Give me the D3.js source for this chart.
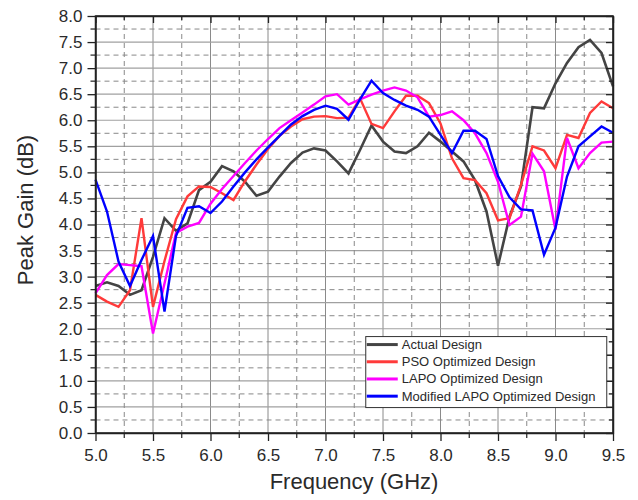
<!DOCTYPE html>
<html>
<head>
<meta charset="utf-8">
<script src="https://cdn.jsdelivr.net/npm/d3@7"></script>
<style>
  body { margin: 0; background: #fff; }
  svg text { font-family: "Liberation Sans", Arial, sans-serif; fill: #2a2a2a; }
</style>
</head>
<body>
<svg id="chart"></svg>
<script>
// frequency points 5.0 .. 9.5 GHz, 0.1 step
const freqs = [5.0, 5.1, 5.2, 5.3, 5.4, 5.5, 5.6, 5.7, 5.8, 5.9,
               6.0, 6.1, 6.2, 6.3, 6.4, 6.5, 6.6, 6.7, 6.8, 6.9,
               7.0, 7.1, 7.2, 7.3, 7.4, 7.5, 7.6, 7.7, 7.8, 7.9,
               8.0, 8.1, 8.2, 8.3, 8.4, 8.5, 8.6, 8.7, 8.8, 8.9,
               9.0, 9.1, 9.2, 9.3, 9.4, 9.5];

const actualGain = [2.82, 2.89, 2.82, 2.65, 2.74, 3.38, 4.12, 3.88, 4.02, 4.66,
                    4.82, 5.12, 5.02, 4.82, 4.55, 4.63, 4.92, 5.18, 5.38, 5.46,
                    5.42, 5.21, 4.98, 5.43, 5.90, 5.59, 5.40, 5.37, 5.50, 5.76,
                    5.59, 5.40, 5.21, 4.85, 4.25, 3.21, 4.15, 4.73, 6.25, 6.23,
                    6.71, 7.10, 7.40, 7.54, 7.29, 6.65];

const psoGain = [2.65, 2.52, 2.42, 2.74, 4.12, 2.42, 3.30, 4.10, 4.54, 4.73,
                 4.72, 4.60, 4.47, 4.83, 5.15, 5.45, 5.70, 5.88, 6.02, 6.07,
                 6.08, 6.04, 6.05, 6.42, 5.93, 5.85, 6.17, 6.47, 6.47, 6.33,
                 5.94, 5.27, 4.89, 4.85, 4.60, 4.08, 4.12, 4.76, 5.50, 5.42,
                 5.08, 5.72, 5.66, 6.14, 6.36, 6.23];

const lapoGain = [2.68, 3.03, 3.24, 3.22, 3.20, 1.91, 2.87, 3.84, 3.96, 4.03,
                  4.40, 4.68, 4.93, 5.18, 5.42, 5.64, 5.85, 6.00, 6.15, 6.30,
                  6.46, 6.50, 6.30, 6.40, 6.49, 6.57, 6.63, 6.57, 6.44, 6.07,
                  6.10, 6.17, 6.00, 5.75, 5.37, 4.82, 3.99, 4.15, 5.36, 5.02,
                  3.90, 5.66, 5.08, 5.37, 5.57, 5.59];

const modLapoGain = [4.86, 4.25, 3.29, 2.82, 3.32, 3.78, 2.33, 3.78, 4.32, 4.35,
                     4.22, 4.44, 4.73, 5.00, 5.25, 5.48, 5.70, 5.92, 6.08, 6.20,
                     6.28, 6.22, 6.01, 6.40, 6.76, 6.52, 6.39, 6.28, 6.20, 6.07,
                     5.72, 5.37, 5.80, 5.80, 5.64, 4.93, 4.52, 4.29, 4.27, 3.42,
                     3.94, 4.92, 5.50, 5.69, 5.88, 5.76];

const seriesNames = ["Actual Design", "PSO Optimized Design", "LAPO Optimized Design", "Modified LAPO Optimized Design"];
const seriesColors = ["#444444", "#ff3a3a", "#ff00ff", "#0000ff"];

const xTicks = [5.0, 5.5, 6.0, 6.5, 7.0, 7.5, 8.0, 8.5, 9.0, 9.5];
const yTicks = [0.0, 0.5, 1.0, 1.5, 2.0, 2.5, 3.0, 3.5, 4.0, 4.5, 5.0, 5.5, 6.0, 6.5, 7.0, 7.5, 8.0];

const width = 638, height = 500;
const margin = { top: 16, right: 25, bottom: 67, left: 95.5 };
const w = width - margin.left - margin.right;
const h = height - margin.top - margin.bottom;

const svg = d3.select("#chart").attr("width", width).attr("height", height);
const g = svg.append("g").attr("transform", `translate(${margin.left},${margin.top})`);

const x = d3.scaleLinear().domain([5.0, 9.5]).range([0, w]);
const y = d3.scaleLinear().domain([0, 8]).range([h, 0]);

// minor positions halfway between majors
const xMinor = xTicks.slice(0, -1).map(d => d + 0.25);
const yMinor = yTicks.slice(0, -1).map(d => d + 0.25);

// grid
const grid = g.append("g").attr("class", "grid");
grid.selectAll(".vmaj").data(xTicks).join("line")
    .attr("x1", d => x(d)).attr("x2", d => x(d)).attr("y1", 0).attr("y2", h)
    .attr("stroke", "#8a8a8a").attr("stroke-width", 1);
grid.selectAll(".hmaj").data(yTicks).join("line")
    .attr("y1", d => y(d)).attr("y2", d => y(d)).attr("x1", 0).attr("x2", w)
    .attr("stroke", "#a0a0a0").attr("stroke-width", 1.2);
grid.selectAll(".vmin").data(xMinor).join("line")
    .attr("x1", d => x(d)).attr("x2", d => x(d)).attr("y1", 0).attr("y2", h)
    .attr("stroke", "#888").attr("stroke-width", 1).attr("stroke-dasharray", "5,4");
grid.selectAll(".hmin").data(yMinor).join("line")
    .attr("y1", d => y(d)).attr("y2", d => y(d)).attr("x1", 0).attr("x2", w)
    .attr("stroke", "#888").attr("stroke-width", 1).attr("stroke-dasharray", "5,4");

// lines
const line = d3.line().x((d, i) => x(freqs[i])).y(d => y(d));
const allSeries = [actualGain, psoGain, lapoGain, modLapoGain];
g.append("g")
  .selectAll("path").data(allSeries).join("path")
    .attr("d", d => line(d))
    .attr("fill", "none")
    .attr("stroke", (d, i) => seriesColors[i])
    .attr("stroke-width", (d, i) => i === 0 ? 2.6 : 2.4)
    .attr("stroke-linejoin", "miter");

// axes
const fmt = d3.format(".1f");
const axisStyle = sel => {
  sel.select(".domain").attr("stroke", "#222").attr("stroke-width", 1.5);
  sel.selectAll(".tick line").attr("stroke", "#222").attr("stroke-width", 1.3);
  sel.selectAll(".tick text").style("font-size", "17px").attr("fill", "#2a2a2a");
};

const xAxis = g.append("g").attr("transform", `translate(0,${h})`)
  .call(d3.axisBottom(x).tickValues(xTicks).tickFormat(fmt).tickSize(8).tickPadding(8).tickSizeOuter(0));
axisStyle(xAxis);
const yAxis = g.append("g")
  .call(d3.axisLeft(y).tickValues(yTicks).tickFormat(fmt).tickSize(8).tickPadding(5).tickSizeOuter(0));
axisStyle(yAxis);
const xTop = g.append("g")
  .call(d3.axisBottom(x).tickValues(xTicks).tickFormat("").tickSize(7).tickSizeOuter(0));
axisStyle(xTop);
const yRight = g.append("g").attr("transform", `translate(${w},0)`)
  .call(d3.axisLeft(y).tickValues(yTicks).tickFormat("").tickSize(7).tickSizeOuter(0));
axisStyle(yRight);

// minor ticks
g.append("g").selectAll("line").data(xMinor).join("line")
  .attr("x1", d => x(d)).attr("x2", d => x(d)).attr("y1", h).attr("y2", h + 5)
  .attr("stroke", "#222").attr("stroke-width", 1.2);
g.append("g").selectAll("line").data(xMinor).join("line")
  .attr("x1", d => x(d)).attr("x2", d => x(d)).attr("y1", 0).attr("y2", 4)
  .attr("stroke", "#222").attr("stroke-width", 1.2);
g.append("g").selectAll("line").data(yMinor).join("line")
  .attr("y1", d => y(d)).attr("y2", d => y(d)).attr("x1", 0).attr("x2", -5)
  .attr("stroke", "#222").attr("stroke-width", 1.2);
g.append("g").selectAll("line").data(yMinor).join("line")
  .attr("y1", d => y(d)).attr("y2", d => y(d)).attr("x1", w).attr("x2", w - 4)
  .attr("stroke", "#222").attr("stroke-width", 1.2);

// frame
g.append("rect").attr("width", w).attr("height", h)
  .attr("fill", "none").attr("stroke", "#222").attr("stroke-width", 1.5);

// axis titles
svg.append("text")
  .attr("x", 354).attr("y", 489)
  .attr("text-anchor", "middle").style("font-size", "22px")
  .text("Frequency (GHz)");
svg.append("text")
  .attr("transform", "translate(33,210) rotate(-90)")
  .attr("text-anchor", "middle").style("font-size", "22px")
  .text("Peak Gain (dB)");

// legend
const lg = g.append("g").attr("transform", `translate(${x(7.35)},${y(1.85)})`);
lg.append("rect").attr("width", 241).attr("height", 71)
  .attr("fill", "#fff").attr("stroke", "#333").attr("stroke-width", 1);
seriesNames.forEach((name, i) => {
  const yy = 8 + i * 17.2;
  lg.append("line").attr("x1", 1).attr("x2", 32).attr("y1", yy).attr("y2", yy)
    .attr("stroke", seriesColors[i]).attr("stroke-width", 3);
  lg.append("text").attr("x", 36).attr("y", yy + 4.5)
    .style("font-size", "13px").attr("fill", "#2a2a2a").text(name);
});
</script>
</body>
</html>
